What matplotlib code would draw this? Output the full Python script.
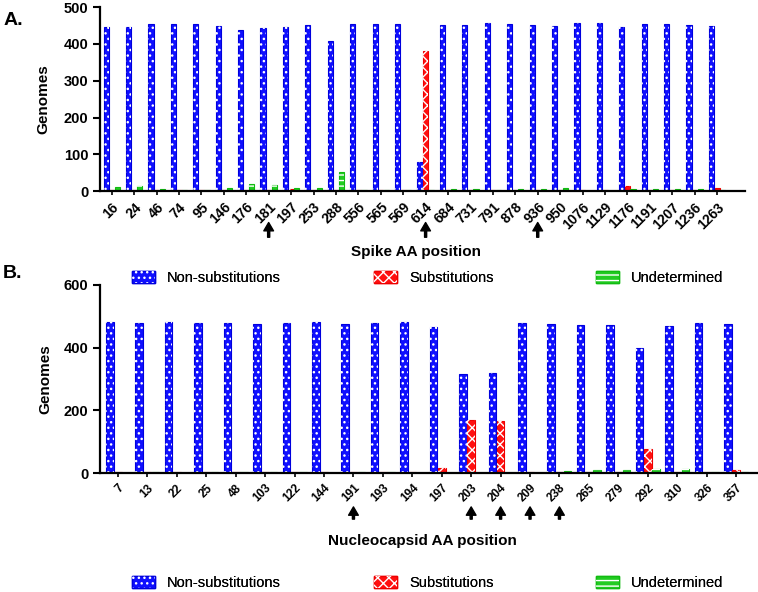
import matplotlib.pyplot as plt
import numpy as np
from matplotlib.patches import Patch

plt.rcParams['font.family'] = ['Liberation Sans', 'DejaVu Sans']
plt.rcParams['hatch.linewidth'] = 1.0

# Panel A - spike
spike_pos = ['16', '24', '46', '74', '95', '146', '176', '181', '197', '253', '288', '556', '565', '569',
             '614', '684', '731', '791', '878', '936', '950', '1076', '1129', '1176', '1191', '1207', '1236', '1263']
spike_non = [447, 446, 453, 455, 455, 449, 439, 442, 447, 452, 408, 455, 455, 455,
             79, 452, 452, 457, 454, 452, 450, 458, 458, 445, 454, 454, 452, 450]
spike_sub = [2, 2, 2, 2, 2, 2, 2, 2, 5, 2, 2, 2, 2, 2,
             380, 2, 2, 2, 2, 2, 2, 2, 2, 13, 2, 2, 2, 10]
spike_und = [12, 14, 6, 3, 4, 10, 20, 18, 9, 8, 52, 3, 3, 3,
             2, 6, 7, 3, 6, 7, 10, 0, 0, 7, 6, 6, 7, 3]
spike_arrows = ['181', '614', '936']

# Panel B - nucleocapsid
nuc_pos = ['7', '13', '22', '25', '48', '103', '122', '144', '191', '193', '194',
           '197', '203', '204', '209', '238', '265', '279', '292', '310', '326', '357']
nuc_non = [481, 478, 480, 478, 478, 476, 478, 480, 476, 478, 480,
           465, 315, 318, 478, 474, 471, 471, 398, 469, 477, 475]
nuc_sub = [3, 3, 3, 3, 3, 4, 3, 3, 4, 3, 3,
           17, 168, 166, 3, 3, 3, 3, 75, 3, 3, 8]
nuc_und = [0, 4, 0, 3, 4, 4, 4, 0, 4, 3, 0,
           0, 0, 0, 0, 6, 10, 10, 12, 12, 4, 3]
nuc_arrows = ['191', '203', '204', '209', '238']

labels = ['Non-substitutions', 'Substitutions', 'Undetermined']
colors = ['#1010ff', '#ff1010', '#22cc22']
edges = ['#0000dd', '#ee0000', '#11bb11']
hatches = ['...', 'xxx', '---']


def panel(ax, pos, series, arrows, ymax, ystep, xlabel, width, lab_size, arr_y):
    x = np.arange(len(pos))
    for i, vals in enumerate(series):
        off = (i - 1) * width
        ax.bar(x + off, vals, width * 0.92, color=colors[i], edgecolor=edges[i], linewidth=0.8)
        ax.bar(x + off, vals, width * 0.92, color='none', edgecolor='white', linewidth=0, hatch=hatches[i])
    ax.set_ylim(0, ymax)
    ax.set_yticks(np.arange(0, ymax + 1, ystep))
    ax.set_xticks(x)
    ax.set_xticklabels(pos, rotation=45, ha='right', rotation_mode='anchor', fontweight='bold', fontsize=lab_size)
    for lab in ax.get_yticklabels():
        lab.set_fontweight('bold')
        lab.set_fontsize(10.5)
    ax.tick_params(axis='y', width=1.5, length=5)
    ax.tick_params(axis='x', width=1.2, length=3)
    for s in ['top', 'right']:
        ax.spines[s].set_visible(False)
    for s in ['left', 'bottom']:
        ax.spines[s].set_linewidth(1.6)
    ax.set_ylabel('Genomes', fontweight='bold', fontsize=11)
    ax.text(0.49, -0.36 if ymax == 600 else -0.33, xlabel, transform=ax.transAxes, ha='center', va='center',
            fontweight='bold', fontsize=11)
    for a in arrows:
        k = pos.index(a)
        ax.annotate('', xy=(k, arr_y[0]), xytext=(k, arr_y[1]),
                    xycoords=('data', 'axes fraction'), textcoords=('data', 'axes fraction'),
                    arrowprops=dict(facecolor='black', edgecolor='black', width=1.5, headwidth=7, headlength=6))


def legend_row(fig, y):
    for i, x in enumerate([128, 370, 592]):
        h = (Patch(facecolor=colors[i], edgecolor=edges[i]),
             Patch(facecolor='none', edgecolor='white', linewidth=0, hatch=hatches[i]))
        lg = fig.legend([h], [labels[i]], loc='center left', bbox_to_anchor=(x / 758 - 0.012, y),
                        frameon=False, fontsize=10.5, handlelength=1.6, handleheight=0.9, handletextpad=0.8)
        fig.add_artist(lg)


fig = plt.figure(figsize=(7.58, 5.92), dpi=100)
axA = fig.add_axes([0.132, 0.677, 0.851, 0.311])
axB = fig.add_axes([0.132, 0.201, 0.867, 0.318])

panel(axA, spike_pos, [spike_non, spike_sub, spike_und], spike_arrows, 500, 100,
      'Spike AA position', 0.25, 10, (-0.17, -0.25))
axA.set_xlim(-0.52, len(spike_pos) + 0.25)
panel(axB, nuc_pos, [nuc_non, nuc_sub, nuc_und], nuc_arrows, 600, 200,
      'Nucleocapsid AA position', 0.28, 8.5, (-0.18, -0.245))
axB.set_xlim(-0.61, len(nuc_pos) - 1 + 0.72)

axA.yaxis.set_label_coords(-0.077, 0.5)
axB.yaxis.set_label_coords(-0.072, 0.5)

fig.text(0.004, 0.965, 'A.', fontsize=14, fontweight='bold', va='center')
fig.text(0.004, 0.538, 'B.', fontsize=14, fontweight='bold', va='center')

legend_row(fig, 1 - 278 / 592)
legend_row(fig, 1 - 583 / 592)

fig.savefig('out.png', dpi=100)
